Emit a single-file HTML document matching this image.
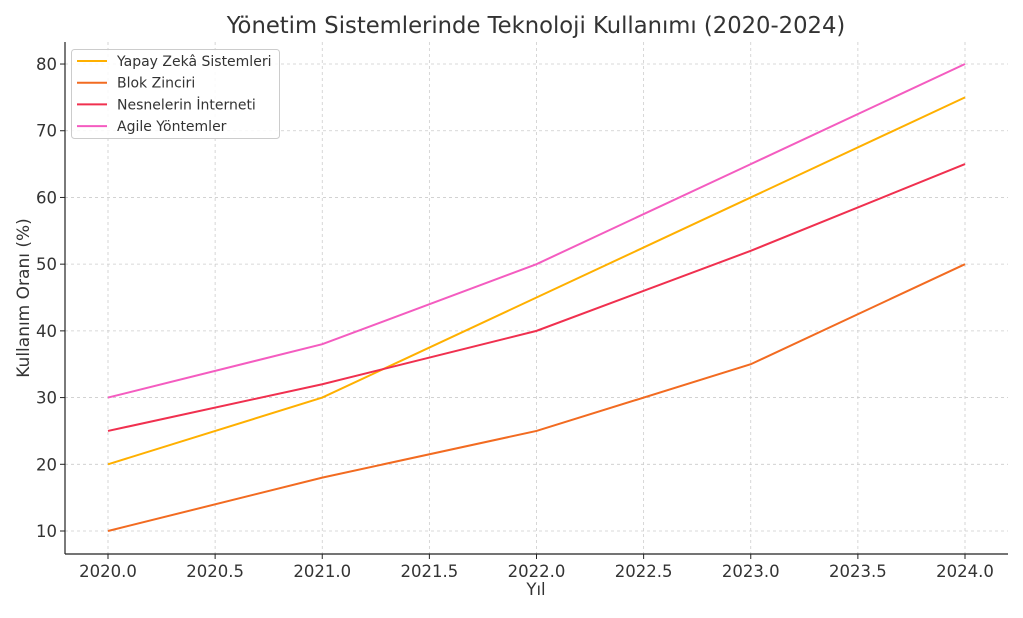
<!DOCTYPE html>
<html><head><meta charset="utf-8"><style>
body{margin:0;background:#fff;font-family:"DejaVu Sans","Liberation Sans",sans-serif;}
</style></head><body>
<svg id="c" width="1023" height="614" xmlns="http://www.w3.org/2000/svg" style="font-family:'DejaVu Sans','Liberation Sans',sans-serif">
<text x="536" y="33" font-size="22.7" fill="#333" text-anchor="middle">Yönetim Sistemlerinde Teknoloji Kullanımı (2020-2024)</text>
<g id="grid"></g><g id="lines"></g><g id="ticks"></g>
<line x1="65" y1="42" x2="65" y2="554" stroke="#222" stroke-width="1.2"/>
<line x1="65" y1="554" x2="1008" y2="554" stroke="#222" stroke-width="1.2"/>
<text x="536" y="595" font-size="16.5" fill="#333" text-anchor="middle">Yıl</text>
<text transform="translate(29,298) rotate(-90)" font-size="17" fill="#333" text-anchor="middle">Kullanım Oranı (%)</text>
<g id="legend">
<rect x="71.5" y="49.5" width="208" height="89" rx="3" fill="#fff" fill-opacity="0.85" stroke="#ccc"/>
</g>
</svg>
<script>
const years=[2020,2021,2022,2023,2024];
const seriesNames=["Yapay Zekâ Sistemleri","Blok Zinciri","Nesnelerin İnterneti","Agile Yöntemler"];
const yapay=[20,30,45,60,75];
const blok=[10,18,25,35,50];
const nesne=[25,32,40,52,65];
const agile=[30,38,50,65,80];
const xTicks=[2020,2020.5,2021,2021.5,2022,2022.5,2023,2023.5,2024];
const yTicks=[10,20,30,40,50,60,70,80];
const colors=["#FFB000","#F26B21","#F0304F","#F45CC0"];
const NS="http://www.w3.org/2000/svg";
const X=v=>108+(v-2020)*214.25;
const Y=v=>531-(v-10)*6.671;
function mk(t,a,p){const e=document.createElementNS(NS,t);for(const k in a)e.setAttribute(k,a[k]);document.getElementById(p).appendChild(e);return e;}
xTicks.forEach(t=>{
 const g=mk("line",{x1:X(t),x2:X(t),y1:42,y2:554,stroke:"#ccc","stroke-dasharray":"3,3","stroke-width":0.8},"grid");
 
 
 const k=mk("line",{x1:X(t),x2:X(t),y1:554,y2:559,stroke:"#222"},"ticks");
 
 
 const l=mk("text",{x:X(t),y:577,"font-size":16.5,fill:"#333","text-anchor":"middle"},"ticks");
 l.textContent=t.toFixed(1);
 
 
});
yTicks.forEach(t=>{
 const g=mk("line",{x1:65,x2:1008,y1:Y(t),y2:Y(t),stroke:"#ccc","stroke-dasharray":"3,3","stroke-width":0.8},"grid");
 
 
 const k=mk("line",{x1:60,x2:65,y1:Y(t),y2:Y(t),stroke:"#222"},"ticks");
 
 
 const l=mk("text",{x:57,y:Y(t)+6,"font-size":16.5,fill:"#333","text-anchor":"end"},"ticks");
 l.textContent=t;
 
 
});
[yapay,blok,nesne,agile].forEach((s,i)=>{
 const p=mk("polyline",{points:s.map((v,j)=>X(years[j])+","+Y(v)).join(" "),fill:"none",stroke:colors[i],"stroke-width":2},"lines");
 
 
 const y=61+i*21.7;
 const ll=mk("line",{x1:77,x2:107,y1:y,y2:y,stroke:colors[i],"stroke-width":2},"legend");
 
 
 const lt=mk("text",{x:117,y:y+5,"font-size":14,fill:"#333"},"legend");
 lt.textContent=seriesNames[i];
 
 
});
</script>
</body></html>
